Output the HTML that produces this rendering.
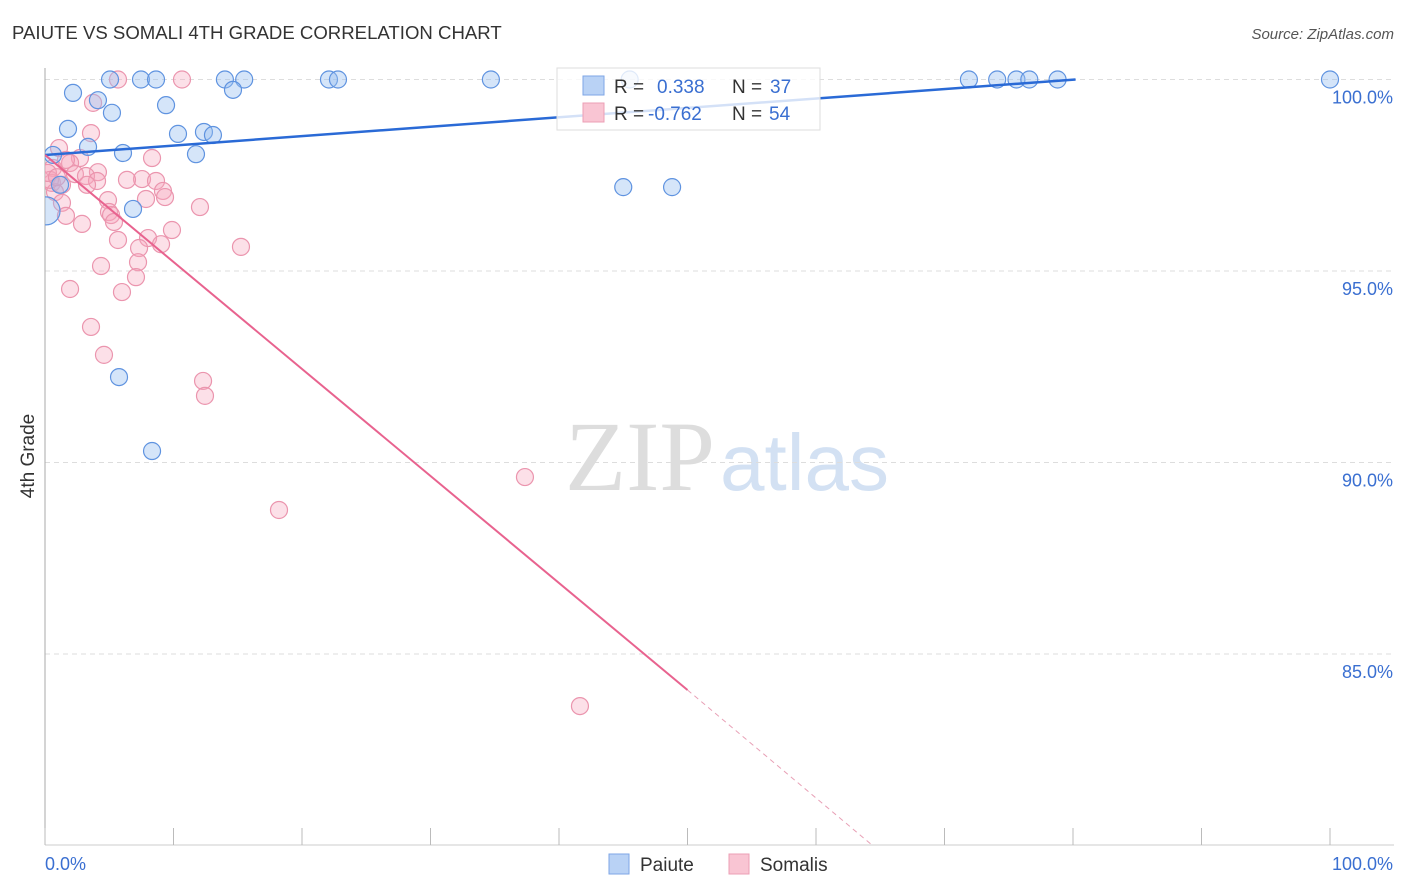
<!DOCTYPE html>
<html><head><meta charset="utf-8"><style>
body{margin:0;background:#fff;font-family:"Liberation Sans",sans-serif}
svg{display:block}
</style></head><body>
<svg id="c" width="1406" height="892">
<defs><clipPath id="plot"><rect x="45" y="60" width="1360" height="786"/></clipPath></defs>
<text x="12" y="39" font-size="18.6" fill="#333">PAIUTE VS SOMALI 4TH GRADE CORRELATION CHART</text>
<text x="1394" y="39" font-size="15" fill="#555" font-style="italic" text-anchor="end">Source: ZipAtlas.com</text>
<text x="0" y="0" transform="translate(34,456) rotate(-90)" font-size="19" fill="#333" text-anchor="middle">4th Grade</text>
<text x="715" y="490" font-size="100" fill="#ddd" font-family="Liberation Serif,serif" text-anchor="end">ZIP</text>
<text x="720" y="490" font-size="80" fill="#d3e1f3">atlas</text>
<g id="grid"></g><g id="marks" clip-path="url(#plot)"></g>
<g>
<rect x="557" y="68" width="263" height="62" fill="rgba(255,255,255,0.8)" stroke="#ddd"/>
<rect x="583" y="76" width="21" height="19" fill="#b9d2f5" stroke="#7ea6e6"/>
<rect x="583" y="103" width="21" height="19" fill="#f9c5d3" stroke="#ec9fb6"/>
<text x="614" y="93" font-size="19" fill="#333">R = </text><text x="657" y="93" font-size="19" fill="#3a6fd1">0.338</text>
<text x="732" y="93" font-size="19" fill="#333">N = </text><text x="770" y="93" font-size="19" fill="#3a6fd1">37</text>
<text x="614" y="120" font-size="19" fill="#333">R = </text><text x="648" y="120" font-size="19" fill="#3a6fd1">-0.762</text>
<text x="732" y="120" font-size="19" fill="#333">N = </text><text x="769" y="120" font-size="19" fill="#3a6fd1">54</text>
</g>
<g>
<rect x="609" y="854" width="20" height="20" fill="#b9d2f5" stroke="#7ea6e6"/>
<text x="640" y="871" font-size="19" fill="#333">Paiute</text>
<rect x="729" y="854" width="20" height="20" fill="#f9c5d3" stroke="#ec9fb6"/>
<text x="760" y="871" font-size="19" fill="#333">Somalis</text>
</g>
</svg>
<script>
const yTicks=[100,95,90,85];
const yTickLabels=["100.0%","95.0%","90.0%","85.0%"];
const xTickLabels=["0.0%","100.0%"];
const paiuteX=[5.06,7.47,8.64,14.0,15.5,22.1,22.8,34.7,45.5,71.9,74.1,75.6,76.6,78.8,100,2.18,4.12,5.21,9.42,1.79,10.35,12.37,13.07,3.35,6.07,11.75,0.62,1.17,6.85,0.08,45.0,48.8,5.76,8.33,14.63];
const paiuteY=[100,100,100,100,100,100,100,100,100,100,100,100,100,100,100,99.65,99.46,99.13,99.33,98.71,98.58,98.63,98.55,98.24,98.08,98.05,98.03,97.25,96.62,96.57,97.19,97.19,92.23,90.30,99.73];
const somaliX=[5.68,10.66,3.74,3.58,1.09,8.33,2.72,1.95,0.62,4.12,2.33,3.19,7.55,6.38,4.05,8.64,0.54,3.27,1.32,0.78,9.18,4.9,9.34,7.86,1.32,12.06,4.98,5.14,1.63,5.37,2.88,9.88,8.02,5.68,9.03,15.25,7.32,7.24,4.36,7.08,1.95,5.99,3.58,4.59,12.3,12.45,37.35,18.21,41.63,0.39,0.23,0.93,1.63];
const somaliY=[100,100,99.39,98.60,98.21,97.95,97.95,97.82,97.69,97.58,97.53,97.48,97.40,97.38,97.35,97.35,97.30,97.25,97.25,97.06,97.09,96.85,96.93,96.88,96.78,96.67,96.54,96.46,96.44,96.28,96.23,96.07,95.86,95.81,95.70,95.63,95.60,95.23,95.13,94.84,94.53,94.45,93.54,92.81,92.13,91.74,89.62,88.76,83.64,97.38,97.56,97.45,97.9];
const paiuteTrend=[[0,98.03],[80.2,100.0]];
const somaliTrend=[[0,98.03],[50,84.06],[64.4,80.0]];
const NS="http://www.w3.org/2000/svg";
const sx=v=>45+v*12.85, sy=v=>79.5+(100-v)*38.3;
function mk(tag,attrs,parent){const e=document.createElementNS(NS,tag);for(const k in attrs)e.setAttribute(k,attrs[k]);parent.appendChild(e);return e;}
const grid=document.getElementById('grid'),marks=document.getElementById('marks');
yTicks.forEach((t,i)=>{
 const l=mk('line',{x1:45,x2:1394,y1:sy(t),y2:sy(t),stroke:'#ddd','stroke-dasharray':'5,4'},grid);
 
 
 const tx=mk('text',{x:1393,y:sy(t)+24,'font-size':18,fill:'#3a6fd1','text-anchor':'end'},grid);
 tx.textContent=yTickLabels[i];
 
 
});
const ax=mk('line',{x1:45,x2:1394,y1:845,y2:845,stroke:'#ccc'},grid);


const ay=mk('line',{x1:45,x2:45,y1:68,y2:845,stroke:'#aaa'},grid);


for(let i=0;i<=10;i++){const t=mk('line',{x1:sx(i*10),x2:sx(i*10),y1:828,y2:845,stroke:'#bbb'},grid);
 
 }
[[0,'start',45],[1,'end',1393]].forEach(([i,a,x])=>{const t=mk('text',{x:x,y:870,'font-size':18,fill:'#3a6fd1','text-anchor':a},grid);t.textContent=xTickLabels[i];
 
 });
function dots(X,Y,fill,stroke,name){X.forEach((x,i)=>{const big=(x<0.2&&name==='paiute-point');
 const c=mk('circle',{cx:sx(x),cy:sy(Y[i]),r:big?14:8.5,fill:fill,stroke:stroke,'stroke-width':1.2},marks);
 
 });}
dots(somaliX,somaliY,'rgba(245,165,188,0.35)','#eb95ae','somali-point');
dots(paiuteX,paiuteY,'rgba(150,190,240,0.4)','#5f93e0','paiute-point');
const bt=mk('line',{x1:sx(paiuteTrend[0][0]),y1:sy(paiuteTrend[0][1]),x2:sx(paiuteTrend[1][0]),y2:sy(paiuteTrend[1][1]),stroke:'#2a6ad6','stroke-width':2.5},marks);


const pt=mk('line',{x1:sx(somaliTrend[0][0]),y1:sy(somaliTrend[0][1]),x2:sx(somaliTrend[1][0]),y2:sy(somaliTrend[1][1]),stroke:'#e8638f','stroke-width':2},marks);


const pd=mk('line',{x1:sx(somaliTrend[1][0]),y1:sy(somaliTrend[1][1]),x2:sx(somaliTrend[2][0]),y2:sy(somaliTrend[2][1]),stroke:'#e8a0b6','stroke-width':1,'stroke-dasharray':'5,4'},marks);


</script>
</body></html>
